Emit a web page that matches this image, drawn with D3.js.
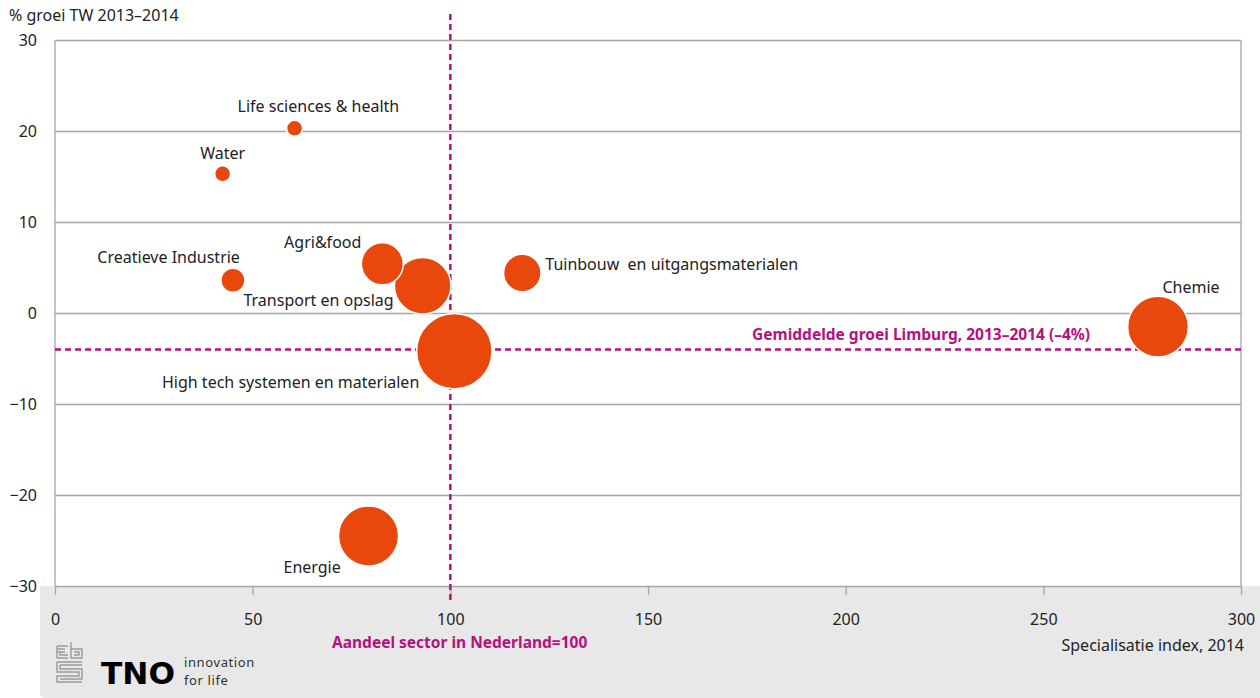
<!DOCTYPE html>
<html>
<head>
<meta charset="utf-8">
<script src="https://cdn.jsdelivr.net/npm/d3@7"></script>
<style>
  body { margin: 0; background: #fff; }
  svg text { font-family: "Noto Sans", sans-serif; fill: #222; }
</style>
</head>
<body>
<div id="chart"></div>
<script>
// ---- data
const sectors = [
    "Life sciences & health",
    "Water",
    "Creatieve Industrie",
    "Agri&food",
    "Transport en opslag",
    "Tuinbouw  en uitgangsmaterialen",
    "High tech systemen en materialen",
    "Chemie",
    "Energie",
];
const specIndex = [60.6, 42.4, 45, 82.8, 93, 118.2, 101, 279, 79.3];
const growth = [20.3, 15.3, 3.6, 5.4, 3.0, 4.4, -4.2, -1.5, -24.5];
// relative bubble size (area)
const sizes = [64, 64, 144, 440, 800, 350, 1420, 920, 900];

const xTicks = [0, 50, 100, 150, 200, 250, 300];
const yTicks = [-30, -20, -10, 0, 10, 20, 30];
const avgGrowth = -4;
const nlShare = 100;

// label placement: offset from the bubble centre + anchor
const labelPos = [
    { dx: -57, dy: -16, anchor: "start" },
    { dx: 0, dy: -15, anchor: "middle" },
    { dx: 7, dy: -17, anchor: "end" },
    { dx: -21, dy: -16, anchor: "end" },
    { dx: -29, dy: 20, anchor: "end" },
    { dx: 23, dy: -3, anchor: "start" },
    { dx: -35, dy: 37, anchor: "end" },
    { dx: 33, dy: -34, anchor: "middle" },
    { dx: -85, dy: 37, anchor: "start" },
];

const data = sectors.map((s, i) => ({
    name: s,
    x: specIndex[i],
    y: growth[i],
    size: sizes[i],
    lab: labelPos[i],
}));

// ---- size and padding
const w = 1260;
const h = 698;
const pLeft = 55;
const pRight = 19;
const pTop = 40;
const pBottom = 112;
const fs = "16px";

const orange = "#e8480c";
const magenta = "#b5117f";
const grid = "#a6a6a6";

const svg = d3
    .select("#chart")
    .append("svg")
    .attr("width", w)
    .attr("height", h);

// SCALES
const xScale = d3.scaleLinear().domain([0, 300]).range([pLeft, w - pRight]);
const yScale = d3.scaleLinear().domain([-30, 30]).range([h - pBottom, pTop]);
const rScale = d3.scaleSqrt().domain([0, d3.max(sizes)]).range([0, 37.7]);

// grey footer
svg.append("path")
    .attr("d", `M40,${h - pBottom} H${w} V${h} H46 Q40,${h} 40,${h - 6} Z`)
    .attr("fill", "#e8e8e8");

// horizontal grid + y axis labels
const yAxis = d3
    .axisLeft(yScale)
    .tickValues(yTicks)
    .tickSize(-(w - pLeft - pRight))
    .tickPadding(18)
    .tickFormat((d) => (d < 0 ? "\u2212" + Math.abs(d) : d));
svg.append("g")
    .attr("transform", `translate(${pLeft},0)`)
    .call(yAxis)
    .call((g) => g.select(".domain").remove())
    .call((g) => g.selectAll(".tick line").attr("stroke", grid).attr("stroke-width", 1.3))
    .call((g) => g.selectAll(".tick text").attr("fill", "#222").style("font-size", fs));

// left / right borders
[0, 300].forEach((v) => {
    svg.append("line")
        .attr("x1", xScale(v))
        .attr("x2", xScale(v))
        .attr("y1", yScale(30))
        .attr("y2", yScale(-30))
        .attr("stroke", grid)
        .attr("stroke-width", 1.3);
});

// x axis
const xAxis = d3.axisBottom(xScale).tickValues(xTicks).tickSize(9).tickPadding(19);
svg.append("g")
    .attr("transform", `translate(0,${yScale(-30)})`)
    .call(xAxis)
    .call((g) => g.select(".domain").remove())
    .call((g) => g.selectAll(".tick line").attr("stroke", grid).attr("stroke-width", 1.3))
    .call((g) => g.selectAll(".tick text").attr("fill", "#222").style("font-size", fs));

// reference lines
svg.append("line")
    .attr("x1", xScale(0))
    .attr("x2", xScale(300))
    .attr("y1", yScale(avgGrowth))
    .attr("y2", yScale(avgGrowth))
    .attr("stroke", magenta)
    .attr("stroke-width", 2.5)
    .attr("stroke-dasharray", "6,4");

svg.append("line")
    .attr("x1", xScale(nlShare))
    .attr("x2", xScale(nlShare))
    .attr("y1", 14)
    .attr("y2", yScale(-30) + 14)
    .attr("stroke", magenta)
    .attr("stroke-width", 2.5)
    .attr("stroke-dasharray", "6,4");

// BUBBLES (largest first)
const sorted = data.slice().sort((a, b) => b.size - a.size);
svg.append("g")
    .selectAll("circle")
    .data(sorted)
    .enter()
    .append("circle")
    .attr("cx", (d) => xScale(d.x))
    .attr("cy", (d) => yScale(d.y))
    .attr("r", (d) => rScale(d.size))
    .attr("fill", orange)
    .attr("stroke", "#fff")
    .attr("stroke-width", 1.5);

// bubble labels
svg.append("g")
    .selectAll("text")
    .data(data)
    .enter()
    .append("text")
    .attr("x", (d) => xScale(d.x) + d.lab.dx)
    .attr("y", (d) => yScale(d.y) + d.lab.dy)
    .attr("text-anchor", (d) => d.lab.anchor)
    .style("font-size", fs)
    .style("white-space", "pre")
    .attr("xml:space", "preserve")
    .text((d) => d.name);

// reference labels
svg.append("text")
    .attr("x", 1090)
    .attr("y", yScale(avgGrowth) - 9)
    .attr("text-anchor", "end")
    .style("font-size", "15.5px")
    .style("font-weight", "bold")
    .style("fill", magenta)
    .text("Gemiddelde groei Limburg, 2013\u20132014 (\u20134%)");

svg.append("text")
    .attr("x", 332)
    .attr("y", 648)
    .style("font-size", "15.5px")
    .style("font-weight", "bold")
    .style("fill", magenta)
    .text("Aandeel sector in Nederland=100");

// axis titles
svg.append("text")
    .attr("x", 9)
    .attr("y", 21)
    .style("font-size", fs)
    .text("% groei TW 2013\u20132014");

svg.append("text")
    .attr("x", w - 16)
    .attr("y", 651)
    .attr("text-anchor", "end")
    .style("font-size", fs)
    .text("Specialisatie index, 2014");

// LOGOS
const cbs = svg.append("g")
    .attr("transform", "translate(57,646)")
    .attr("fill", "none")
    .attr("stroke", "#9a9a9a")
    .attr("stroke-width", 1.4);
cbs.append("path").attr("d", "M0,0 H11 M0,0 V12 H11 M0,3 H8 M0,6 H8 M3,6 V9 H11");
cbs.append("path").attr("d", "M14,-4 V12 H25 V3 H14 M17,6 H22 V9 H17");
cbs.append("path").attr("d", "M0,16 H25 M0,16 V26 H22 V30 H0 V36 H25 M3,19 H25 M3,19 V23 H25 V33 H3");

svg.append("text")
    .attr("x", 101)
    .attr("y", 684)
    .attr("textLength", 74)
    .attr("lengthAdjust", "spacingAndGlyphs")
    .style("font-family", "'DejaVu Sans', sans-serif")
    .style("font-size", "31px")
    .style("font-weight", "900")
    .style("fill", "#000")
    .text("TNO");
const tag = svg.append("text")
    .attr("x", 184)
    .attr("y", 667)
    .style("font-size", "13px")
    .style("letter-spacing", "0.6px")
    .style("fill", "#333");
tag.append("tspan").attr("x", 184).text("innovation");
tag.append("tspan").attr("x", 184).attr("dy", 18).text("for life");
</script>
</body>
</html>
